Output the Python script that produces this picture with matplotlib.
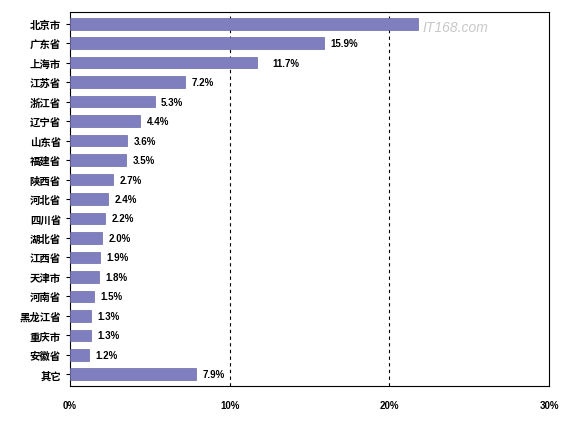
import matplotlib
matplotlib.use("Agg")
import matplotlib.pyplot as plt

plt.rcParams['font.family'] = ['Liberation Sans', 'Noto Sans CJK SC', 'DejaVu Sans']

provinces = ["北京市","广东省","上海市","江苏省","浙江省","辽宁省","山东省","福建省","陕西省","河北省",
             "四川省","湖北省","江西省","天津市","河南省","黑龙江省","重庆市","安徽省","其它"]
values = [21.8,15.9,11.7,7.2,5.3,4.4,3.6,3.5,2.7,2.4,2.2,2.0,1.9,1.8,1.5,1.3,1.3,1.2,7.9]
labels = [None,"15.9%","11.7%","7.2%","5.3%","4.4%","3.6%","3.5%","2.7%","2.4%","2.2%","2.0%",
          "1.9%","1.8%","1.5%","1.3%","1.3%","1.2%","7.9%"]
xticks = [0,10,20,30]
xticklabels = ["0%","10%","20%","30%"]

fig = plt.figure(figsize=(5.77,4.27), dpi=100)
ax = fig.add_axes([70/577, 1-387/427, 479/577, 374/427])
y = list(range(len(provinces)))
ax.barh(y, values, height=0.6, color="#7f7fbf", edgecolor="#6a6aa8", linewidth=0.5, zorder=3)
for yi, v, lab in zip(y, values, labels):
    if lab is None:
        continue
    off = 1.0 if lab == "11.7%" else 0.4
    ax.text(v+off, yi, lab, va="center", ha="left", fontsize=7, fontweight="bold")
ax.set_ylim(len(provinces)-0.4, -0.6)
ax.set_xlim(0,30)
ax.set_xticks(xticks)
ax.set_xticklabels(xticklabels, fontsize=7, fontweight="bold")
ax.set_yticks(y)
ax.set_yticklabels(provinces, fontsize=7.5, fontweight="bold")
ax.tick_params(axis='x', length=0, pad=10)
ax.tick_params(axis='y', length=3)
for xv in [10,20]:
    ax.axvline(xv, color="black", linestyle=(0,(3,3)), linewidth=0.8, zorder=2)
for s in ax.spines.values():
    s.set_linewidth(0.8)
fig.text(455/577, 1-28/427, "IT168.com", color="#c8c8c8", fontsize=10, style="italic", ha="center", va="center")
fig.savefig("out.png", dpi=100)
